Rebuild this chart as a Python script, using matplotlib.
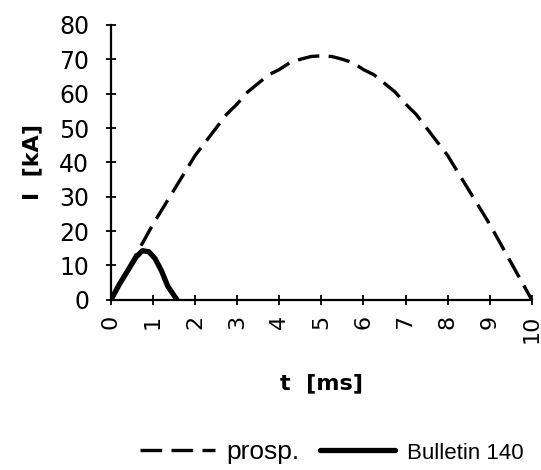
import numpy as np
import matplotlib
matplotlib.use('Agg')
import matplotlib.pyplot as plt

plt.rcParams['font.family'] = ['DejaVu Sans']

# prospective current (every 0.25 ms)
t_prosp = [0, 0.25, 0.5, 0.75, 1, 1.25, 1.5, 1.75, 2, 2.25, 2.5, 2.75, 3, 3.25, 3.5, 3.75,
           4, 4.25, 4.5, 4.75, 5, 5.25, 5.5, 5.75, 6, 6.25, 6.5, 6.75, 7, 7.25, 7.5, 7.75,
           8, 8.25, 8.5, 8.75, 9, 9.25, 9.5, 9.75, 10]
i_prosp = [0, 5.5, 11, 16.5, 22, 27, 32, 37, 42, 46, 50, 54, 57, 60.5, 63, 65.5,
           67, 69, 70, 70.8, 71, 70.8, 70, 69, 67, 65.5, 63, 60.5, 57, 54, 50, 46,
           42, 37, 32, 27, 22, 16.5, 11, 5.5, 0]

# limited current, Bulletin 140
t_b140 = [0, 0.2, 0.4, 0.6, 0.75, 0.9, 1.05, 1.2, 1.35, 1.57]
i_b140 = [0, 4.5, 8.5, 12.5, 14.3, 14, 12, 8.5, 4, 0]

x_ticks = list(range(0, 11))
y_ticks = list(range(0, 90, 10))

fig = plt.figure(figsize=(5.41, 4.70), dpi=100)
ax = fig.add_axes([0.205, 0.362, 0.778, 0.585])

ax.plot(t_prosp, i_prosp, color='black', lw=2.4, dashes=(6.5, 2.8), label='prosp.')
ax.plot(t_b140, i_b140, color='black', lw=3.8, solid_capstyle='round',
        solid_joinstyle='round', label='Bulletin 140')

ax.set_xlim(0, 10)
ax.set_ylim(0, 80)
ax.set_xticks(x_ticks)
ax.set_yticks(y_ticks)
ax.set_xticklabels([str(v) for v in x_ticks], rotation=90)
ax.tick_params(direction='inout', length=7.2, width=1.3)
ax.tick_params(axis='y', pad=12, labelsize=17)
ax.tick_params(axis='x', pad=7, labelsize=16)
for s in ['top', 'right']:
    ax.spines[s].set_visible(False)
for s in ['left', 'bottom']:
    ax.spines[s].set_linewidth(1.6)

ax.set_xlabel('t  [ms]', fontsize=16, fontweight='bold', labelpad=22)
ax.set_ylabel('I  [kA]', fontsize=16, fontweight='bold', labelpad=12)

leg = fig.legend(loc='center left', bbox_to_anchor=(0.214, 0.038), ncol=2, frameon=False,
                 handlelength=2.85, columnspacing=0.75, handletextpad=0.45,
                 prop={'family': 'Liberation Sans', 'size': 19})
leg.get_texts()[1].set_fontsize(16)

fig.savefig('out.png', dpi=100)
